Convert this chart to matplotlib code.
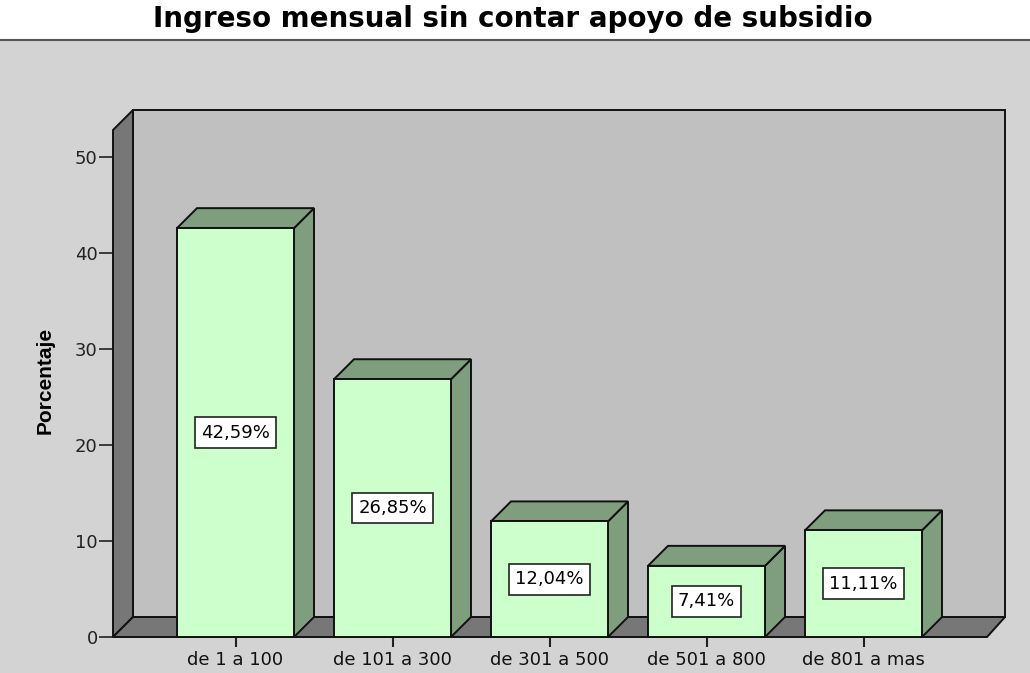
import matplotlib
matplotlib.use("Agg")
import matplotlib.pyplot as plt
from matplotlib.patches import Polygon, Rectangle
from matplotlib.lines import Line2D

# ---- data ----
categories = ["de 1 a 100", "de 101 a 300", "de 301 a 500", "de 501 a 800", "de 801 a mas"]
percentages = [42.59, 26.85, 12.04, 7.41, 11.11]
value_labels = ["42,59%", "26,85%", "12,04%", "7,41%", "11,11%"]
y_ticks = [0, 10, 20, 30, 40, 50]
title = "Ingreso mensual sin contar apoyo de subsidio"
ylabel = "Porcentaje"

# ---- style ----
W, H = 1030, 673
BG = "#d3d3d3"
WALL = "#c0c0c0"
DARK = "#777777"
FRONT = "#ccffcc"
SIDE = "#7e9e7e"
EDGE = "#111111"
LW = 1.4

fig = plt.figure(figsize=(W / 100, H / 100), dpi=100)
fig.patch.set_facecolor("white")
fig.patches.append(Rectangle((0, 0), 1, 1 - 41 / H, transform=fig.transFigure,
                             facecolor=BG, edgecolor="none", zorder=-10))
fig.lines.append(Line2D([0, 1], [1 - 40 / H, 1 - 40 / H], transform=fig.transFigure,
                        color="#555555", lw=1.5, zorder=-9))

# axes = front plane
left_px, right_px, base_px, top_px = 113, 987, 637, 130
px_per_unit_y = 9.6
px_per_cat = 157
ax = fig.add_axes([left_px / W, (H - base_px) / H, (right_px - left_px) / W, (base_px - top_px) / H])
ax.set_facecolor("none")
n = len(categories)
x0 = -(235.5 - left_px) / px_per_cat
x1 = n - 1 + (right_px - 235.5 - (n - 1) * px_per_cat) / px_per_cat
ytop = (base_px - top_px) / px_per_unit_y
ax.set_xlim(x0, x1)
ax.set_ylim(0, ytop)

dx = 20 / px_per_cat
dy = 20 / px_per_unit_y
bw = 117 / px_per_cat

def poly(pts, fc, z):
    p = Polygon(pts, closed=True, facecolor=fc, edgecolor=EDGE, lw=LW,
                joinstyle="miter", clip_on=False, zorder=z)
    ax.add_patch(p)

bx1 = x1 + (1005 - right_px) / px_per_cat - dx
# back wall
poly([(x0 + dx, dy), (x0 + dx, ytop + dy), (bx1 + dx, ytop + dy), (bx1 + dx, dy)], WALL, 1)
# left wall
poly([(x0, 0), (x0, ytop), (x0 + dx, ytop + dy), (x0 + dx, dy)], DARK, 2)
# floor
poly([(x0, 0), (x0 + dx, dy), (bx1 + dx, dy), (x1, 0)], DARK, 2)

# bars
for i, v in enumerate(percentages):
    l, r = i - bw / 2, i + bw / 2
    poly([(r, 0), (r + dx, dy), (r + dx, v + dy), (r, v)], SIDE, 3)
    poly([(l, v), (l + dx, v + dy), (r + dx, v + dy), (r, v)], SIDE, 3)
    poly([(l, 0), (l, v), (r, v), (r, 0)], FRONT, 4)
    ax.text(i, v / 2, value_labels[i], ha="center", va="center", fontsize=13,
            family="DejaVu Sans", zorder=6,
            bbox=dict(boxstyle="square,pad=0.35", facecolor="white", edgecolor="#222222", lw=1.2))

for s in ax.spines.values():
    s.set_visible(False)
ax.set_yticks(y_ticks)
ax.set_yticklabels([str(t) for t in y_ticks], fontsize=13, family="DejaVu Sans", color="#222222")
ax.set_xticks(range(n))
ax.set_xticklabels(categories, fontsize=13, family="DejaVu Sans", color="#111111")
ax.tick_params(axis="y", direction="out", length=10, width=1.2, pad=1, color="#222222")
ax.tick_params(axis="x", direction="out", length=7, width=1.5, pad=3, color="#222222")

fig.text(45 / W, 1 - 380 / H, ylabel, rotation=90, ha="center", va="center",
         fontsize=15, fontweight="bold", family="Liberation Sans")
fig.text(513 / W, 1 - 19 / H, title, ha="center", va="center",
         fontsize=20, fontweight="bold", family="DejaVu Sans")

fig.savefig("out.png", dpi=100)
